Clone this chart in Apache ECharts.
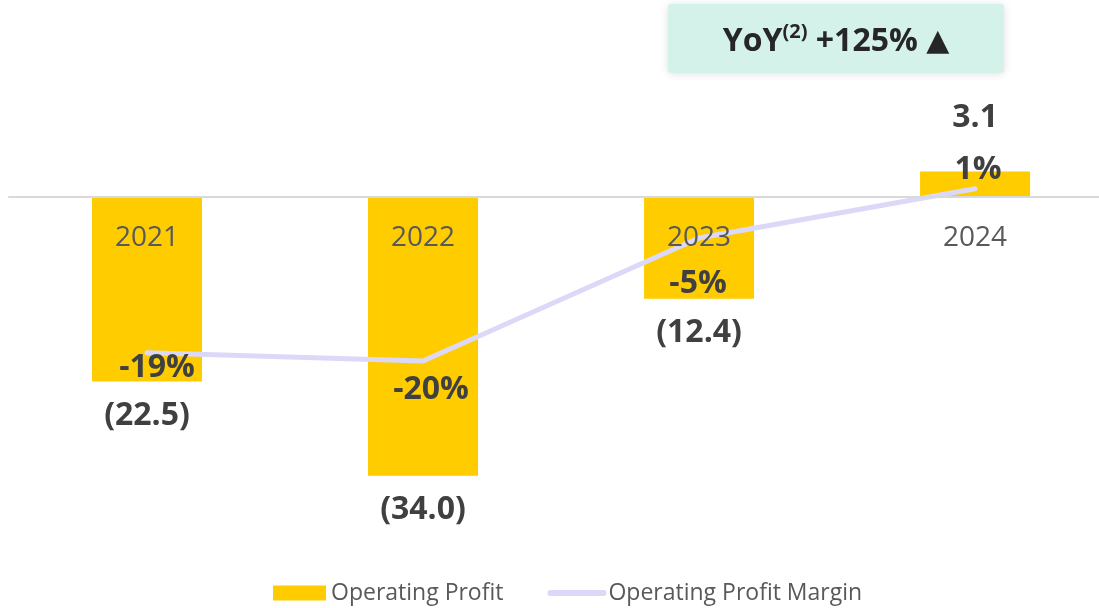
<!DOCTYPE html>
<html>
<head>
<meta charset="utf-8">
<script src="https://cdn.jsdelivr.net/npm/echarts@6/dist/echarts.min.js"></script>
<style>html,body{margin:0;padding:0;background:#fff;}#c{width:1099px;height:608px;}</style>
</head>
<body>
<div id="c"></div>
<script>
const categories = ['2021', '2022', '2023', '2024'];
const operatingProfit = [-22.5, -34.0, -12.4, 3.1];
const operatingMargin = [-19, -20, -5, 1];
const seriesNames = ['Operating Profit', 'Operating Profit Margin'];
const yoyText = { label: 'YoY', note: '(2)', value: '+125%' };

const FONT = '"Open Sans", "DejaVu Sans", sans-serif';
const chart = echarts.init(document.getElementById('c'), null, { renderer: 'canvas' });

// label nudges for the margin labels (style only)
const marginLabelOffsets = [[10, 15], [8, 29], [-1, 46], [3, -19]];

// category slots are placed on a numeric x axis (slot index), so the
// plot can show only part of the last slot, as in the original layout
const barData = operatingProfit.map((v, i) => ({
  value: [i, v],
  label: { distance: v < 0 ? 18 : 38 }
}));
const lineData = operatingMargin.map((v, i) => ({
  value: [i, v],
  label: { offset: marginLabelOffsets[i] }
}));
const yearLabelData = categories.map((c, i) => ({ value: [i, 0], name: c }));

chart.setOption({
  animation: false,
  textStyle: { fontFamily: FONT },
  grid: { left: 9, right: 0, top: 115, height: 410, containLabel: false },
  legend: {
    left: 273, top: 581, padding: 0,
    itemWidth: 53, itemHeight: 15, itemGap: 44,
    textStyle: { fontSize: 23, lineHeight: 24, color: '#595959', fontFamily: FONT },
    data: [
      { name: seriesNames[0], icon: 'rect' },
      { name: seriesNames[1], itemStyle: { opacity: 0 }, lineStyle: { width: 6, cap: 'round', color: '#dcd9f8' } }
    ]
  },
  xAxis: {
    type: 'value',
    min: -0.5, max: 3.449,
    z: 10,
    axisLine: { show: true, onZero: true, lineStyle: { color: '#d9d9d9', width: 2 } },
    axisTick: { show: false },
    axisLabel: { show: false },
    splitLine: { show: false }
  },
  yAxis: {
    type: 'value', min: -40, max: 10, interval: 10,
    show: false, splitLine: { show: false }
  },
  series: [
    {
      name: seriesNames[0],
      type: 'bar',
      data: barData,
      barWidth: 110,
      itemStyle: { color: '#ffcc00' },
      z: 2,
      label: {
        show: true, position: 'outside',
        fontSize: 32, fontWeight: 'bold', color: '#404040', fontFamily: FONT,
        formatter: p => { const v = p.value[1]; return v < 0 ? '(' + Math.abs(v).toFixed(1) + ')' : v.toFixed(1); }
      }
    },
    {
      name: seriesNames[1],
      type: 'line',
      data: lineData,
      symbol: 'circle', symbolSize: 1, showSymbol: true,
      itemStyle: { color: '#dcd9f8' },
      lineStyle: { color: '#dcd9f8', width: 5, cap: 'round', join: 'round' },
      z: 5,
      label: {
        show: true, position: 'inside',
        fontSize: 32, fontWeight: 'bold', color: '#404040', fontFamily: FONT,
        formatter: p => p.value[1] + '%'
      }
    },
    {
      name: 'yearLabels',
      type: 'scatter',
      data: yearLabelData,
      symbolSize: 1,
      itemStyle: { color: 'rgba(0,0,0,0)', opacity: 1 },
      silent: true,
      z: 8,
      label: {
        show: true, position: 'inside', offset: [0, 41],
        fontSize: 28, lineHeight: 28, color: '#595959', opacity: 1, fontFamily: FONT,
        formatter: p => p.name
      }
    }
  ],
  graphic: [
    {
      type: 'rect',
      shape: { x: 668, y: 4, width: 336, height: 69, r: 3 },
      style: { fill: '#d5f2ea', shadowBlur: 8, shadowColor: 'rgba(0,0,0,0.12)', shadowOffsetY: 1 },
      z: 10
    },
    {
      type: 'text',
      x: 836, y: 42,
      z: 11,
      style: {
        text: '{m|' + yoyText.label + '}{s|' + yoyText.note + '}{m| ' + yoyText.value + ' }{t|▲}',
        align: 'center', verticalAlign: 'middle',
        rich: {
          m: { fontSize: 32, fontWeight: 'bold', fill: '#262626', fontFamily: FONT, lineHeight: 40 },
          s: { fontSize: 20, fontWeight: 'bold', fill: '#262626', fontFamily: FONT, verticalAlign: 'top', lineHeight: 22 },
          t: { fontSize: 30, fill: '#262626', fontFamily: '"DejaVu Sans", sans-serif', lineHeight: 40 }
        }
      }
    }
  ]
});
</script>
</body>
</html>
